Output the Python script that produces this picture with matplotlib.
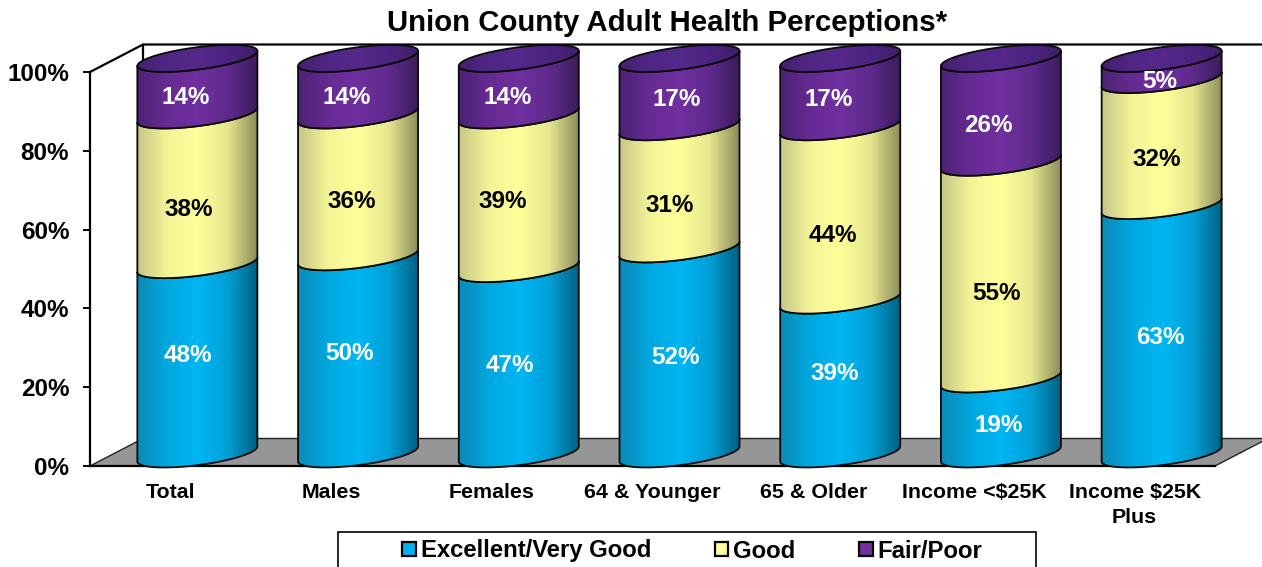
import numpy as np
import matplotlib.pyplot as plt
from matplotlib.colors import LinearSegmentedColormap
from matplotlib.patches import Patch, Polygon, Rectangle

plt.rcParams['font.family'] = ['Liberation Sans', 'DejaVu Sans']
plt.rcParams['font.weight'] = 'bold'

categories = ['Total', 'Males', 'Females', '64 & Younger', '65 & Older', 'Income <$25K', 'Income $25K\nPlus']
excellent = [48, 50, 47, 52, 39, 19, 63]
good = [38, 36, 39, 31, 44, 55, 32]
fair = [14, 14, 14, 17, 17, 26, 5]
series_names = ['Excellent/Very Good', 'Good', 'Fair/Poor']
y_ticks = [0, 20, 40, 60, 80, 100]

# where the original put its value labels, in image pixels
label_px = [
    [(188, 355), (349, 354), (510, 366), (675, 357), (835, 374), (999, 425), (1160, 338)],
    [(189, 209), (352, 202), (503, 202), (670, 205), (833, 235), (996, 293), (1157, 160)],
    [(186, 98), (347, 98), (508, 98), (677, 99), (829, 100), (988, 125), (1160, 82)],
]
label_colors = ['white', 'black', 'white']

W, H = 1262, 567
LEFT, RIGHT, BOTTOM, TOP = 90, 1215, 466, 72
FLOOR_DX, FLOOR_DY = 53 / 160.7, 27.5 / 3.94

# cylinder shape in axis units (one category wide, percent high)
CENTER_DX = 27 / 160.7
HALF_WIDTH = 60 / 160.7
TILT = 7.5 / 3.94
MINOR = 11.2 / 3.94
LIFT_BOTTOM, LIFT_SEAM, LIFT_TOP = 3.05, 3.1, 3.45

side_colors = [
    ['#0c8ab6', '#00a8e0', '#00b6f5', '#00a0d6', '#005f80'],
    ['#c6c688', '#f4f497', '#ffff99', '#e6e68f', '#8a8a58'],
    ['#4c2374', '#672a93', '#7030a0', '#5f2a8c', '#3b1b5c'],
]
cap_colors = ['#42206e', '#512684', '#55288c', '#4c2480', '#3f1e68']


def front_arc(cx, level, reverse=False):
    t = np.linspace(np.pi, 2 * np.pi, 60)
    if reverse:
        t = t[::-1]
    return np.column_stack([cx + HALF_WIDTH * np.cos(t), level + TILT * np.cos(t) + MINOR * np.sin(t)])


def full_ellipse(cx, level):
    t = np.linspace(0, 2 * np.pi, 120)
    return np.column_stack([cx + HALF_WIDTH * np.cos(t), level + TILT * np.cos(t) + MINOR * np.sin(t)])


def shaded_shape(ax, points, cx, cmap, z):
    outline = Polygon(points, closed=True, facecolor='none', edgecolor='#0a0a0a', linewidth=1.3,
                      zorder=z + 0.1, clip_on=False)
    ax.add_patch(outline)
    gradient = np.linspace(0, 1, 256)[None, :]
    image = ax.imshow(gradient, cmap=cmap, aspect='auto', zorder=z, interpolation='bilinear',
                      extent=(cx - HALF_WIDTH, cx + HALF_WIDTH, points[:, 1].min(), points[:, 1].max()))
    # the caps and the last column run past the axes box
    image.set_clip_box(ax.figure.bbox)
    image.set_clip_path(Polygon(points, closed=True, transform=ax.transData))


def level_of(value):
    if value <= 0:
        return value + LIFT_BOTTOM
    if value >= 100:
        return value + LIFT_TOP
    return value + LIFT_SEAM


def main():
    figure = plt.figure(figsize=(W / 100, H / 100), dpi=100)
    ax = figure.add_axes([LEFT / W, 1 - BOTTOM / H, (RIGHT - LEFT) / W, (BOTTOM - TOP) / H])
    ax.patch.set_visible(False)

    # floor and back wall
    ax.add_patch(Polygon([(-0.5, 0), (6.5, 0), (6.5 + FLOOR_DX, FLOOR_DY), (-0.5 + FLOOR_DX, FLOOR_DY)],
                         closed=True, facecolor='#969696', edgecolor='#222222', linewidth=1.0,
                         zorder=1, clip_on=False))
    ax.plot([-0.5, -0.5 + FLOOR_DX, 6.5 + FLOOR_DX], [100, 100 + FLOOR_DY, 100 + FLOOR_DY],
            color='black', linewidth=1.6, zorder=1, clip_on=False)
    ax.plot([-0.5 + FLOOR_DX, -0.5 + FLOOR_DX], [FLOOR_DY, 100 + FLOOR_DY],
            color='black', linewidth=1.6, zorder=1, clip_on=False)

    side_maps = [LinearSegmentedColormap.from_list('side%d' % i, c) for i, c in enumerate(side_colors)]
    cap_map = LinearSegmentedColormap.from_list('cap', cap_colors)

    # cylinders, one segment at a time
    for i in range(len(categories)):
        cx = i + CENTER_DX
        low = 0
        for j, values in enumerate([excellent, good, fair]):
            high = low + values[i]
            points = np.vstack([front_arc(cx, level_of(low)), front_arc(cx, level_of(high), reverse=True)])
            shaded_shape(ax, points, cx, side_maps[j], 3 + j * 0.2)
            low = high
        shaded_shape(ax, full_ellipse(cx, level_of(low)), cx, cap_map, 3.8)

    # value labels
    for j, values in enumerate([excellent, good, fair]):
        for i, value in enumerate(values):
            px, py = label_px[j][i]
            ax.text((px - LEFT) / 160.7 - 0.5, (BOTTOM - py) / 3.94, '%d%%' % value, color=label_colors[j],
                    fontsize=17.5, fontweight='bold', ha='center', va='center', zorder=6, clip_on=False)

    ax.set_xlim(-0.5, 6.5)
    ax.set_ylim(0, 100)
    ax.set_xticks(range(len(categories)), categories, fontsize=15.4, fontweight='bold', linespacing=1.4)
    ax.set_yticks(y_ticks, ['%d%%' % v for v in y_ticks], fontsize=17.5, fontweight='bold')
    ax.tick_params(axis='x', length=0, pad=12.3)
    ax.tick_params(axis='y', length=5, width=1.4, pad=10)
    for side in ['top', 'right']:
        ax.spines[side].set_visible(False)
    for side in ['left', 'bottom']:
        ax.spines[side].set_linewidth(1.6)
        ax.spines[side].set_zorder(2)

    figure.text(667 / W, 1 - 23 / H, 'Union County Adult Health Perceptions*', fontsize=21.2,
                fontweight='bold', ha='center', va='center')

    # legend box is open at the bottom edge of the image
    figure.add_artist(Rectangle((338 / W, -0.01), 698 / W, (H - 532) / H + 0.01, transform=figure.transFigure,
                                facecolor='white', edgecolor='black', linewidth=1.2))
    handles = [Patch(facecolor=c, edgecolor='black', linewidth=1.6, label=n)
               for c, n in zip(['#00b0f0', '#ffff99', '#7030a0'], series_names)]
    figure.legend(handles=handles, loc='center left', bbox_to_anchor=(402 / W, 1 - 551 / H), ncols=3,
                  frameon=False, fontsize=17.2, handlelength=0.58, handleheight=0.58, handletextpad=0.2,
                  columnspacing=2.66, borderpad=0, borderaxespad=0)

    figure.savefig('out.png', dpi=100)


if __name__ == "__main__":
    main()
